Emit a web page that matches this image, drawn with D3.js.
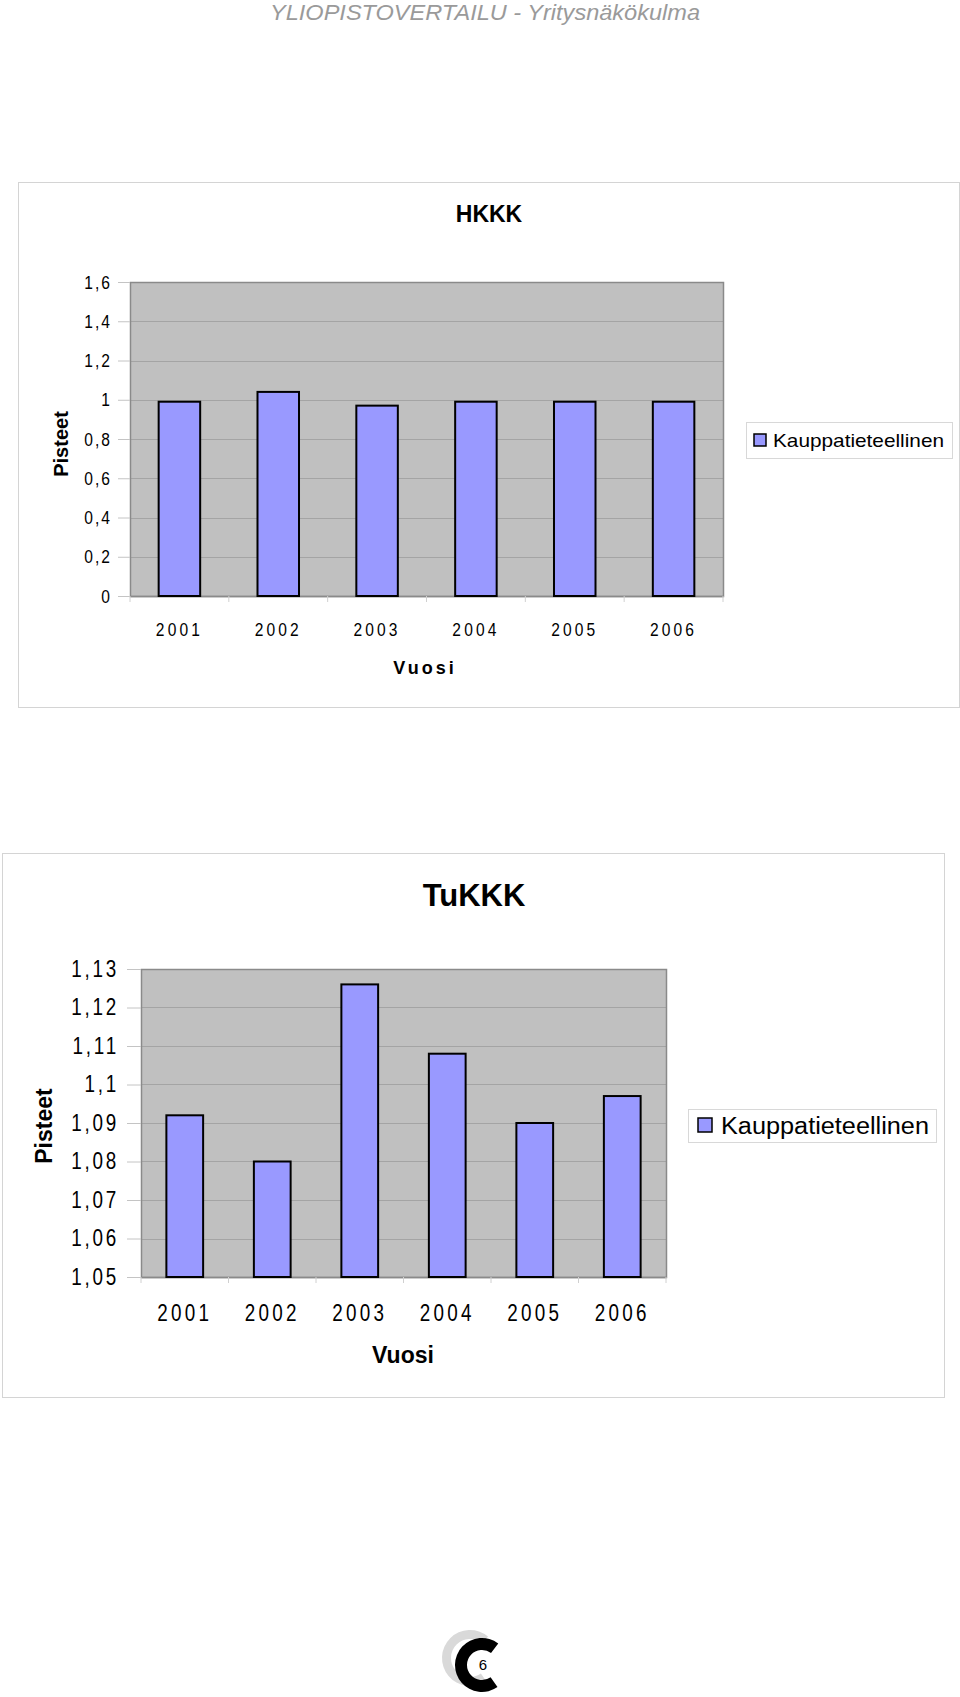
<!DOCTYPE html>
<html><head><meta charset="utf-8">
<script src="https://cdn.jsdelivr.net/npm/d3@7"></script>
<style>body{margin:0;background:#fff}svg{display:block}text{font-family:"Liberation Sans",Arial,sans-serif}</style>
</head><body>
<svg id="c" width="960" height="1697"></svg>
<script>
const years = ["2001","2002","2003","2004","2005","2006"];
const hkkkValues = [0.99, 1.04, 0.97, 0.99, 0.99, 0.99];
const hkkkTicks = [0,0.2,0.4,0.6,0.8,1,1.2,1.4,1.6];
const tukkkValues = [1.092, 1.080, 1.126, 1.108, 1.090, 1.097];
const tukkkTicks = [1.05,1.06,1.07,1.08,1.09,1.10,1.11,1.12,1.13];
const seriesName = "Kauppatieteellinen";
const headerText = "YLIOPISTOVERTAILU - Yritysnäkökulma";

const svg = d3.select("#c");
const fmt = v => String(+v.toFixed(2)).replace(".", ",");
const SX = 0.82;

svg.append("text").attr("x",485).attr("y",20).attr("text-anchor","middle")
  .attr("font-size",22).attr("font-style","italic").attr("fill","#9a9a9a")
  .attr("textLength",430).attr("lengthAdjust","spacingAndGlyphs").text(headerText);

function chart(o){
  const g = svg.append("g");
  g.append("rect").attr("x",o.frame[0]+0.5).attr("y",o.frame[1]+0.5).attr("width",o.frame[2]).attr("height",o.frame[3])
    .attr("fill","#fff").attr("stroke","#d4d4d4");
  const [px,py,pw,ph] = o.plot;
  const x = d3.scaleBand().domain(years).range([px,px+pw]).padding(0);
  const y = d3.scaleLinear().domain(o.domain).range([py+ph,py]);
  g.append("rect").attr("x",px).attr("y",py).attr("width",pw).attr("height",ph).attr("fill","#c0c0c0");
  g.selectAll(".grid").data(o.ticks).join("line")
    .attr("x1",px).attr("x2",px+pw).attr("y1",d=>Math.round(y(d))+0.5).attr("y2",d=>Math.round(y(d))+0.5)
    .attr("stroke","#a4a4a4").attr("stroke-width",1);
  g.append("rect").attr("x",px+0.5).attr("y",py+0.5).attr("width",pw).attr("height",ph)
    .attr("fill","none").attr("stroke","#8a8a8a").attr("stroke-width",1.5);
  // y axis
  const ya = g.append("g").attr("transform",`translate(${px},0)`)
    .call(d3.axisLeft(y).tickValues(o.ticks).tickFormat(fmt).tickSize(o.tickLen).tickPadding(o.yPad));
  ya.select(".domain").attr("stroke","#8a8a8a");
  ya.selectAll(".tick line").attr("stroke","#c4c4c4");
  ya.selectAll("text").attr("font-size",o.tickFont).attr("letter-spacing",o.lsY).attr("fill","#000")
    .attr("x",-(o.tickLen+o.yPad)/SX).attr("transform",`scale(${SX},1)`);
  // x axis
  const xa = g.append("g").attr("transform",`translate(0,${py+ph})`)
    .call(d3.axisBottom(x).tickSize(0).tickPadding(o.xPad));
  xa.select(".domain").attr("stroke","#8a8a8a").attr("stroke-width",1.5);
  xa.selectAll("text").attr("font-size",o.xFont).attr("letter-spacing",o.lsX).attr("fill","#000")
    .attr("transform",`scale(${SX},1)`);
  g.selectAll(".xt").data(d3.range(years.length+1)).join("line")
    .attr("x1",i=>px+i*x.step()).attr("x2",i=>px+i*x.step()).attr("y1",py+ph).attr("y2",py+ph+6)
    .attr("stroke","#d0d0d0");
  // bars
  const bw = x.bandwidth()*0.42;
  g.selectAll(".bar").data(o.values).join("rect")
    .attr("x",(d,i)=>x(years[i])+x.bandwidth()/2-bw/2).attr("width",bw)
    .attr("y",d=>y(d)).attr("height",d=>y(o.domain[0])-y(d))
    .attr("fill","#9999ff").attr("stroke","#000").attr("stroke-width",2);
  // title
  g.append("text").attr("x",o.title[1]).attr("y",o.title[2]).attr("text-anchor","middle")
    .attr("font-weight","bold").attr("font-size",o.title[3]).text(o.title[0]);
  g.append("text").attr("x",o.vuosi[0]).attr("y",o.vuosi[1]).attr("text-anchor","middle")
    .attr("font-weight","bold").attr("font-size",o.vuosi[2]).attr("letter-spacing",o.vuosi[3]).text("Vuosi");
  g.append("text").attr("transform",`translate(${o.pist[0]},${o.pist[1]}) rotate(-90)`).attr("text-anchor","middle")
    .attr("font-weight","bold").attr("font-size",o.pist[2]).text("Pisteet");
  // legend
  const L = o.legend;
  g.append("rect").attr("x",L[0]+0.5).attr("y",L[1]+0.5).attr("width",L[2]).attr("height",L[3])
    .attr("fill","#fff").attr("stroke","#d8d8d8");
  g.append("rect").attr("x",L[4]).attr("y",L[5]).attr("width",L[6]).attr("height",L[6])
    .attr("fill","#9999ff").attr("stroke","#000").attr("stroke-width",1.5);
  g.append("text").attr("x",L[7]).attr("y",L[8]).attr("font-size",L[9])
    .attr("textLength",L[10]).attr("lengthAdjust","spacingAndGlyphs").text(seriesName);
}

chart({frame:[18,182,941,525], plot:[130,282,593,314], domain:[0,1.6], ticks:hkkkTicks, values:hkkkValues,
  yPad:6, tickLen:12, tickFont:19, xFont:19, xPad:27, lsY:2.5, lsX:3.8,
  title:["HKKK",489,222,23], vuosi:[425,674,18,3], pist:[68,444,20],
  legend:[746,422,206,36,754,434,12,773,447,19,171]});

chart({frame:[2,853,942,544], plot:[141,969,525,308], domain:[1.05,1.13], ticks:tukkkTicks, values:tukkkValues,
  yPad:8, tickLen:14, tickFont:23, xFont:23, xPad:28, lsY:3.4, lsX:4,
  title:["TuKKK",474,906,31], vuosi:[403,1363,23,0], pist:[52,1126,23],
  legend:[688,1109,248,33,698,1118,14,721,1134,23,208]});

// page logo
const arc = d3.arc();
svg.append("path").attr("transform","translate(470,1658)")
  .attr("d",arc({innerRadius:19,outerRadius:28,startAngle:145*Math.PI/180,endAngle:400*Math.PI/180}))
  .attr("fill","#d9d9d9");
svg.append("path").attr("transform","translate(482,1665)")
  .attr("d",arc({innerRadius:15,outerRadius:27,startAngle:145*Math.PI/180,endAngle:397*Math.PI/180}))
  .attr("fill","#000");
svg.append("text").attr("x",483).attr("y",1670).attr("text-anchor","middle").attr("font-size",15).text("6");
</script>
</body></html>
